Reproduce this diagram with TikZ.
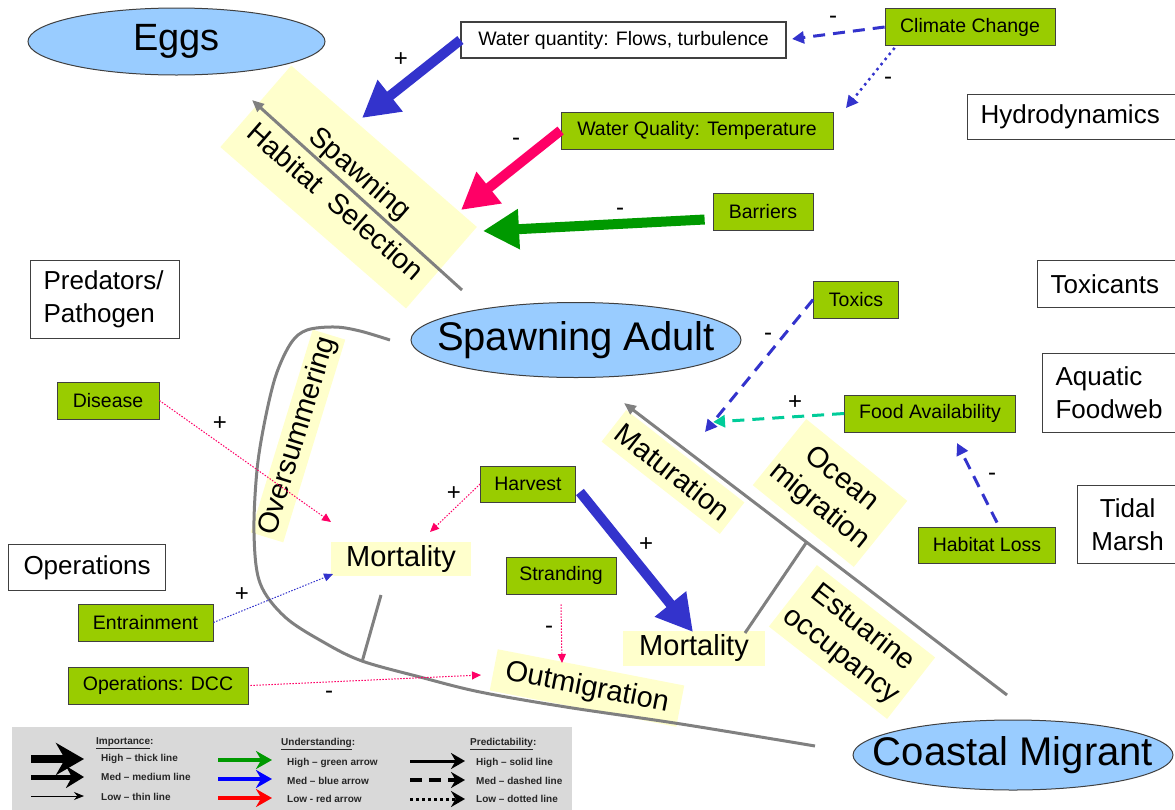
\documentclass[tikz,border=0pt]{standalone}
\usepackage{fontspec}
\setmainfont{Liberation Sans}
\usetikzlibrary{arrows.meta,shapes.geometric}
\definecolor{gboxc}{RGB}{153,204,0}
\definecolor{ylabc}{RGB}{255,255,204}
\definecolor{efill}{RGB}{153,204,255}
\definecolor{barr}{RGB}{51,51,204}
\definecolor{parr}{RGB}{255,0,102}
\definecolor{garr}{RGB}{0,153,0}
\definecolor{tarr}{RGB}{0,204,153}
\definecolor{gline}{RGB}{128,128,128}
\definecolor{lbg}{RGB}{217,217,217}
\definecolor{bord}{RGB}{64,64,64}
\begin{document}
\begin{tikzpicture}[x=1pt,y=-1pt,
 greenbox/.style={draw=bord, line width=0.8pt, fill=gboxc, inner sep=0pt, font=\fontsize{19.5}{22}\selectfont},
 whitebox/.style={draw=bord, line width=1.2pt, fill=white, inner ysep=0pt, font=\fontsize{26}{33}\selectfont},
 yellowlab/.style={fill=ylabc, inner sep=0pt, font=\fontsize{29}{35}\selectfont, align=center},
 stage/.style={ellipse, draw=bord, line width=1pt, fill=efill, inner sep=0pt},
 stagetext/.style={inner sep=0pt, font=\fontsize{40}{44}\selectfont},
 sign/.style={font=\fontsize{24}{26}\selectfont, inner sep=0pt},
 bigarrow/.style={line width=10pt, -{Triangle[length=36pt,width=38pt]}},
 medarrow/.style={line width=3pt, dash pattern=on 12pt off 8pt, -{Triangle[length=12pt,width=12pt]}},
 dotarrow/.style={line width=2.5pt, dash pattern=on 2.5pt off 4pt, -{Triangle[length=12pt,width=12pt]}},
 thinarrow/.style={line width=1pt, dash pattern=on 1.5pt off 1.5pt, -{Triangle[length=9pt,width=8pt]}},
 cycleline/.style={draw=gline, line width=3pt},
 legtext/.style={font=\fontsize{10}{11}\selectfont\bfseries, anchor=west, inner sep=0pt, text=black!85},
]
\useasboundingbox (0,0) rectangle (1175,809);

% ---- life stages
\node[stage, minimum width=297pt, minimum height=67pt] (eggs) at (176.5,41.5) {};
\node[stagetext, font=\fontsize{38}{42}\selectfont] (eggsT) at (eggs.center) {Eggs};
\node[stage, minimum width=330pt, minimum height=75pt] (adult) at (576,340) {};
\node[stagetext] (adultT) at (adult.center) {Spawning Adult};
\node[stage, minimum width=320pt, minimum height=70pt] (coastal) at (1013,755) {};
\node[stagetext] (coastalT) at (coastal.center) {Coastal Migrant};

% ---- yellow process labels
\node[yellowlab, rotate=-41, minimum width=246pt, minimum height=108pt, font=\fontsize{28.5}{38}\selectfont] (shs) at (348.6,187) {Spawning\\Habitat\ \ Selection};
\node[yellowlab, rotate=-38, minimum width=150pt, minimum height=40pt] (mat) at (673,472) {Maturation};
\node[yellowlab, rotate=-39, minimum width=130pt, minimum height=85pt] (ocean) at (830,493) {Ocean\\migration};
\node[yellowlab, rotate=-38, minimum width=150pt, minimum height=78pt] (estu) at (852,642) {Estuarine\\occupancy};
\node[yellowlab, rotate=-11, minimum width=190pt, minimum height=42pt] (outm) at (587,688) {Outmigration};
\node[yellowlab, rotate=73, minimum width=212pt, minimum height=34pt] (overs) at (298,436) {Oversummering};
\node[yellowlab, minimum width=140pt, minimum height=34pt] (mortL) at (401,559) {Mortality};
\node[yellowlab, minimum width=142pt, minimum height=35pt] (mortR) at (694,648) {Mortality};

% ---- gray life-cycle lines
\coordinate (shsA) at (462,290);
\coordinate (shsB) at (252,100);
\draw[cycleline, -{Triangle[length=12pt,width=10pt]}] (shsA) -- (shsB);
\coordinate (matA) at (1007,695);
\coordinate (matB) at (624,403);
\draw[cycleline, -{Triangle[length=12pt,width=10pt]}] (matA) -- (matB);
\coordinate (brA) at (806,543);
\coordinate (brB) at (745,633);
\draw[cycleline] (brA) -- (brB);
\coordinate (mlA) at (381,595);
\coordinate (mlB) at (362,662);
\draw[cycleline] (mlA) -- (mlB);
\draw[cycleline] plot[smooth, tension=0.55] coordinates {(390,340) (360,331) (335,327) (307,330) (291,343) (276,375) (265,420) (257,470) (254,533) (260,583) (285,617) (325,643) (362,661) (420,677) (480,692) (566,707) (681,724) (815,746)};

% ---- white category boxes
\node[whitebox, anchor=north west, minimum height=45pt, text width=190pt, inner xsep=13pt, align=left] (hydro) at (967,94) {Hydrodynamics};
\node[whitebox, anchor=north west, minimum height=47pt, text width=117pt, inner xsep=13pt, align=left] (toxi) at (1037,260) {Toxicants};
\node[whitebox, anchor=north west, minimum height=79pt, text width=112pt, inner xsep=13pt, align=left] (aqua) at (1042,353) {Aquatic\\Foodweb};
\node[whitebox, anchor=north west, minimum height=78pt, text width=100pt, inner xsep=0pt, align=center] (tidal) at (1077,485) {Tidal\\Marsh};
\node[whitebox, anchor=north west, minimum height=78pt, text width=123pt, inner xsep=13pt, align=left] (pred) at (30,260) {Predators/\\Pathogen};
\node[whitebox, anchor=north west, minimum height=46pt, text width=157pt, inner xsep=0pt, align=center] (oper) at (8,544) {Operations};
\node[draw=bord, line width=1.2pt, fill=white, minimum width=325pt, minimum height=36pt, inner sep=0pt, font=\fontsize{19.5}{22}\selectfont] (wq) at (623.5,40) {Water quantity: Flows, turbulence};

% ---- green factor boxes
\node[greenbox, minimum width=170pt, minimum height=37pt] (climate) at (970,27) {Climate Change};
\node[greenbox, minimum width=272pt, minimum height=37pt] (temp) at (697,130.5) {Water Quality: Temperature};
\node[greenbox, minimum width=100pt, minimum height=37pt] (barriers) at (763,211.5) {Barriers};
\node[greenbox, minimum width=85pt, minimum height=37pt] (toxics) at (856,299.5) {Toxics};
\node[greenbox, minimum width=171pt, minimum height=37pt] (food) at (930,413.5) {Food Availability};
\node[greenbox, minimum width=137pt, minimum height=36pt] (habitat) at (987,545) {Habitat Loss};
\node[greenbox, minimum width=102pt, minimum height=37pt] (disease) at (108,400.5) {Disease};
\node[greenbox, minimum width=95pt, minimum height=36pt] (harvest) at (528,484) {Harvest};
\node[greenbox, minimum width=110pt, minimum height=37pt] (strand) at (561,575.5) {Stranding};
\node[greenbox, minimum width=135pt, minimum height=37pt] (entr) at (145.5,622.5) {Entrainment};
\node[greenbox, minimum width=180pt, minimum height=37pt] (dcc) at (158,685.5) {Operations: DCC};

% ---- arrow targets
\coordinate (tWQ) at (362,118);
\coordinate (tTemp) at (461,210);
\coordinate (tBar) at (483,231);
\coordinate (tTox) at (705,432);
\coordinate (tFood) at (713,422);
\coordinate (tHab) at (957,443);
\coordinate (tDis) at (331,522);
\coordinate (tHarv) at (430,532);
\coordinate (tHarvR) at (693,632);
\coordinate (tEntr) at (333,574);
\coordinate (tStr) at (562,663);
\coordinate (tDcc) at (481,675);
\coordinate (tCC1) at (792,39);
\coordinate (tCC2) at (846,108);

% ---- influence arrows
\draw[bigarrow, barr] (wq.west) -- (tWQ);
\draw[bigarrow, parr] (temp.west) -- (tTemp);
\draw[bigarrow, garr] ([xshift=-8pt,yshift=-8pt]barriers.west) -- (tBar);
\draw[bigarrow, barr] ([xshift=4pt,yshift=-8pt]harvest.east) -- (tHarvR);
\draw[medarrow, barr] (climate.west) -- (tCC1);
\draw[dotarrow, barr] ([xshift=10pt,yshift=-2pt]climate.south west) -- (tCC2);
\draw[medarrow, barr] (toxics.west) -- (tTox);
\draw[medarrow, tarr] (food.west) -- (tFood);
\draw[medarrow, barr] ([xshift=10pt,yshift=4pt]habitat.north) -- (tHab);
\draw[thinarrow, parr] (disease.east) -- (tDis);
\draw[thinarrow, parr] (harvest.west) -- (tHarv);
\draw[thinarrow, barr] (entr.east) -- (tEntr);
\draw[thinarrow, parr] ([yshift=-10pt]strand.south) -- (tStr);
\draw[thinarrow, parr] ([xshift=2pt]dcc.east) -- (tDcc);

% ---- signs
\node[sign] (s1) at (401,60) {+};
\node[sign] (s2) at (516,142) {-};
\node[sign] (s3) at (620,212) {-};
\node[sign] (s4) at (833,20) {-};
\node[sign] (s5) at (888,81) {-};
\node[sign] (s6) at (768,337) {-};
\node[sign] (s7) at (795,403) {+};
\node[sign] (s8) at (992,477) {-};
\node[sign] (s9) at (220,424) {+};
\node[sign] (s10) at (454,494) {+};
\node[sign] (s11) at (646,545) {+};
\node[sign] (s12) at (242,595) {+};
\node[sign] (s13) at (549,630) {-};
\node[sign] (s14) at (329,695) {-};

% ---- legend
\fill[lbg] (12,727) rectangle (572,812);
\node[legtext] (l1) at (96,743) {\underline{Importance}:};
\node[legtext] (l2) at (281,744) {\underline{Understanding}:};
\node[legtext] (l3) at (470,744) {\underline{Predictability}:};
\draw[line width=8pt, -{Stealth[length=28pt,width=32pt]}] (31,759) -- (84,759);
\draw[line width=5pt, -{Stealth[length=18pt,width=22pt]}] (31,777) -- (84,777);
\draw[line width=1pt, -{Stealth[length=10pt,width=8pt]}] (31,796) -- (84,796);
\node[legtext] (l4) at (101,759) {High – thick line};
\node[legtext] (l5) at (101,777) {Med – medium line};
\node[legtext] (l6) at (101,797) {Low – thin line};
\draw[garr, line width=4pt, -{Stealth[length=16pt,width=18pt]}] (218,760) -- (272,760);
\draw[blue, line width=4pt, -{Stealth[length=16pt,width=18pt]}] (218,779) -- (272,779);
\draw[red, line width=4pt, -{Stealth[length=16pt,width=18pt]}] (218,798) -- (272,798);
\node[legtext] (l7) at (287,763) {High – green arrow};
\node[legtext] (l8) at (287,781) {Med – blue arrow};
\node[legtext] (l9) at (287,799) {Low - red arrow};
\draw[line width=3pt, -{Stealth[length=14pt,width=16pt]}] (410,761) -- (465,761);
\draw[line width=4pt, dash pattern=on 12pt off 7pt, -{Stealth[length=14pt,width=16pt]}] (410,780) -- (465,780);
\draw[line width=3pt, dash pattern=on 3pt off 3pt, -{Stealth[length=14pt,width=16pt]}] (410,799) -- (465,799);
\node[legtext] (l10) at (476,763) {High – solid line};
\node[legtext] (l11) at (476,781) {Med – dashed line};
\node[legtext] (l12) at (476,799) {Low – dotted line};
\end{tikzpicture}
\end{document}
